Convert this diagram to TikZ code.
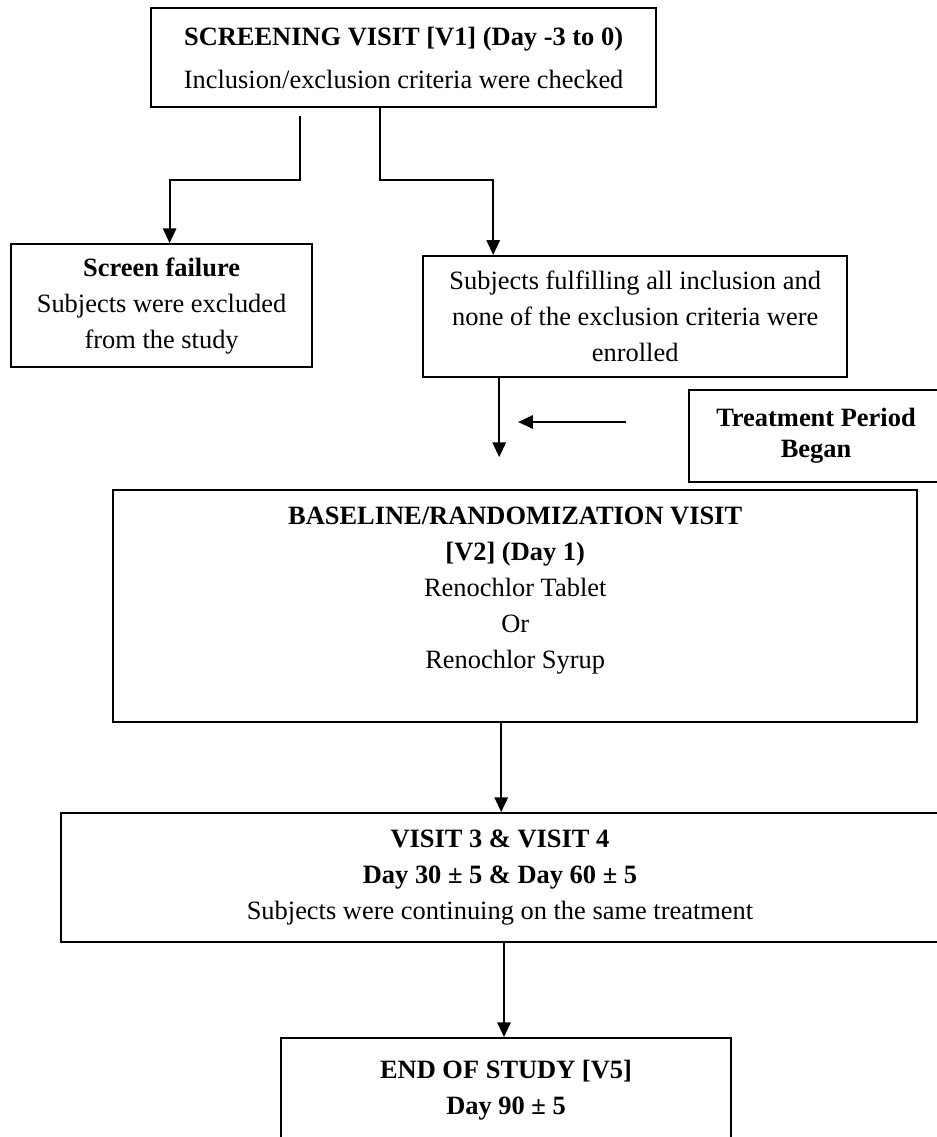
\documentclass[tikz,border=0pt]{standalone}
\usepackage{fontspec}
\setmainfont{Liberation Serif}
\usepackage{tikz}
\usetikzlibrary{positioning}
\usetikzlibrary{arrows.meta, calc}
\tikzstyle{stage} = [rectangle, draw=black, line width=1.3pt, inner sep=0pt, align=center, font=\fontsize{18.8}{25.6}\selectfont]
\tikzstyle{arrowline} = [line width=1.3pt, -{Triangle[length=10.5pt,width=9.5pt]}]

\begin{document}
\begin{tikzpicture}[]
    \useasboundingbox (0,0) rectangle (23.4,-28.425);

    \node[stage, minimum width=12.63cm, minimum height=2.48cm] (scr) at (10.09,-1.44) {\textbf{SCREENING VISIT [V1] (Day -3 to 0)}\\[5pt] Inclusion/exclusion criteria were checked};
    \node[stage, minimum width=7.53cm, minimum height=3.08cm] (fail) at (4.04,-7.64) {\textbf{Screen failure}\\ Subjects were excluded\\ from the study};
    \node[stage, minimum width=10.6cm, minimum height=3.03cm] (subj) at (15.88,-7.91) {Subjects fulfilling all inclusion and\\ none of the exclusion criteria were\\ enrolled};
    \node[stage, minimum width=6.35cm, minimum height=2.3cm] (treat) at (20.4,-10.9) {\textbf{Treatment Period}\\[-3.6pt] \textbf{Began}};
    \node[stage, minimum width=20.1cm, minimum height=5.8cm] (base) at (12.88,-15.15) {\textbf{BASELINE/RANDOMIZATION VISIT}\\ \textbf{[V2] (Day 1)}\\ Renochlor Tablet\\ Or\\ Renochlor Syrup\\ ~};
    \node[stage, minimum width=21.95cm, minimum height=3.23cm] (visit) at (12.5,-21.94) {\textbf{VISIT 3 \& VISIT 4}\\ \textbf{Day 30 ± 5 \& Day 60 ± 5}\\ Subjects were continuing on the same treatment};
    \node[stage, minimum width=11.25cm, minimum height=2.6cm] (eos) at (12.65,-27.25) {\textbf{END OF STUDY [V5]}\\ \textbf{Day 90 ± 5}};

    % split after screening
    \draw[arrowline] ([xshift=-2.59cm,yshift=-2mm]scr.south) -- ++(0,-1.6) -| ([xshift=2mm]fail.north);
    \draw[arrowline] ([xshift=-0.6cm]scr.south) -- ++(0,-1.8) -| ([xshift=-3.55cm]subj.north);

    \draw[arrowline, shorten >=8mm] ([xshift=-3.4cm]subj.south) -- ([xshift=-3.4cm]subj.south |- base.north);
    \draw[arrowline] ([xshift=-1.55cm,yshift=3.5mm]treat.west) -- ++(-2.7,0);

    \draw[arrowline] ([xshift=-3.5mm]base.south) -- ([xshift=-3.5mm]base.south |- visit.north);
    \draw[arrowline] ([xshift=1mm]visit.south) -- ([xshift=1mm]visit.south |- eos.north);

\end{tikzpicture}
\end{document}
